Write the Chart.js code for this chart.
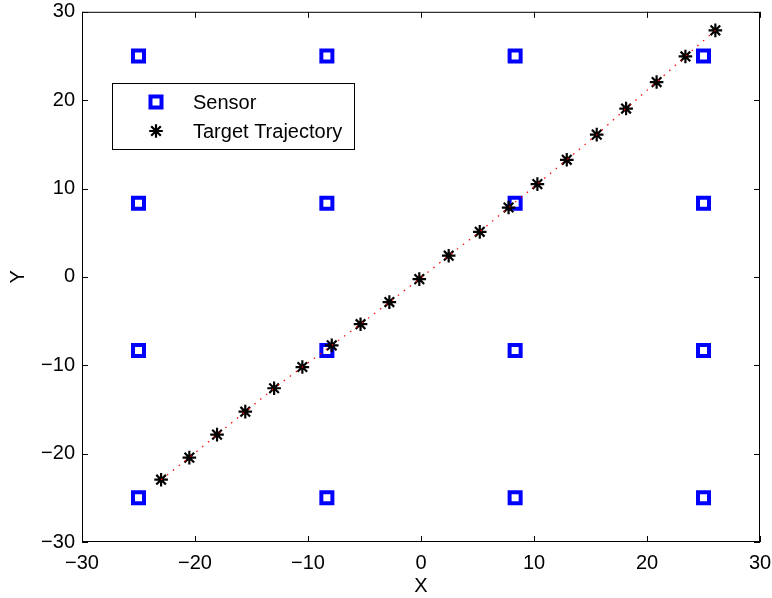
<!DOCTYPE html>
<html>
<head>
<meta charset="utf-8">
<script src="https://cdn.jsdelivr.net/npm/chart.js@4/dist/chart.umd.min.js"></script>
<style>
    body { margin: 0; background: #fff; }
    #wrap { width: 772px; height: 598px; }
</style>
</head>
<body>
<div id="wrap"><canvas id="trackChart" width="772" height="598"></canvas></div>
<script>
// sensor grid positions
var sensorCoords = [-25, -8.33, 8.33, 25];

// target trajectory
var targetX = [-23.0, -20.5, -18.05, -15.55, -13.0, -10.5, -7.9, -5.35, -2.8, -0.15,
    2.45, 5.2, 7.75, 10.3, 12.9, 15.55, 18.15, 20.85, 23.4, 26.05];
var targetY = [-22.95, -20.45, -17.85, -15.25, -12.6, -10.2, -7.75, -5.35, -2.85, -0.25,
    2.4, 5.1, 7.85, 10.5, 13.25, 16.1, 19.05, 22.05, 24.95, 27.9];

var axisTicks = [-30, -20, -10, 0, 10, 20, 30];
var fontName = '"Liberation Sans", Arial, Helvetica, sans-serif';

var sensorPts = [];
sensorCoords.forEach(function(sx){
    sensorCoords.forEach(function(sy){
        sensorPts.push({x: sx, y: sy});
    });
});
var targetPts = targetX.map(function(x, i){ return {x: x, y: targetY[i]}; });

function minusFmt(v){
    return v < 0 ? '\u2212' + Math.abs(v) : String(v);
}

// box around the axes with inward ticks (matlab look)
var boxPlugin = {
    id: 'boxPlugin',
    afterDatasetsDraw: function(chart){
        var ctx = chart.ctx;
        var a = chart.chartArea;
        var xs = chart.scales.x, ys = chart.scales.y;
        ctx.save();
        ctx.strokeStyle = '#000';
        ctx.lineWidth = 1;
        ctx.strokeRect(a.left + 0.5, a.top + 0.5, a.right - a.left - 1, a.bottom - a.top - 1);
        ctx.beginPath();
        axisTicks.forEach(function(t){
            var px = Math.round(xs.getPixelForValue(t)) + 0.5;
            ctx.moveTo(px, a.bottom); ctx.lineTo(px, a.bottom - 6);
            ctx.moveTo(px, a.top); ctx.lineTo(px, a.top + 6);
            var py = Math.round(ys.getPixelForValue(t)) + 0.5;
            ctx.moveTo(a.left, py); ctx.lineTo(a.left + 6, py);
            ctx.moveTo(a.right, py); ctx.lineTo(a.right - 6, py);
        });
        ctx.stroke();
        ctx.restore();
    }
};

// legend box inside the plot
var legendBox = {
    id: 'legendBox',
    afterDraw: function(chart){
        var ctx = chart.ctx;
        var bx = 112, by = 83, bw = 242, bh = 66;
        ctx.save();
        ctx.fillStyle = '#fff';
        ctx.fillRect(bx, by, bw, bh);
        ctx.strokeStyle = '#000';
        ctx.lineWidth = 1;
        ctx.strokeRect(bx + 0.5, by + 0.5, bw, bh);
        var rows = [chart.data.datasets[0], chart.data.datasets[1]];
        ctx.font = '20px ' + fontName;
        ctx.textBaseline = 'middle';
        rows.forEach(function(ds, i){
            var cy = by + 19 + i * 29;
            ctx.strokeStyle = ds.borderColor;
            ctx.fillStyle = ds.backgroundColor;
            ctx.lineWidth = ds.borderWidth;
            Chart.helpers.drawPoint(ctx, {pointStyle: ds.pointStyle, radius: ds.pointRadius, borderWidth: ds.borderWidth}, 156, cy);
            ctx.fillStyle = '#000';
            ctx.fillText(ds.label, 193, cy + 1);
        });
        ctx.restore();
    }
};

var ctx = document.getElementById('trackChart').getContext('2d');

var config = {
    type: 'scatter',
    data: {
        datasets: [{
            label: 'Sensor',
            data: sensorPts,
            order: 2,
            pointStyle: 'rect',
            pointRadius: 7.8,
            borderWidth: 4,
            borderColor: '#0000ff',
            backgroundColor: '#ffffff',
            showLine: false
        }, {
            label: 'Target Trajectory',
            data: targetPts,
            order: 1,
            pointStyle: 'star',
            pointRadius: 6.8,
            borderWidth: 2.2,
            borderColor: '#000000',
            backgroundColor: '#000000',
            showLine: false
        }, {
            label: 'path',
            data: targetPts,
            order: 0,
            showLine: true,
            pointRadius: 0,
            borderColor: '#ff0000',
            borderWidth: 1.2,
            borderDash: [1.5, 6],
            fill: false
        }]
    },
    options: {
        responsive: false,
        animation: false,
        layout: { padding: { top: 7, right: 12, left: 0, bottom: 0 } },
        scales: {
            x: {
                type: 'linear',
                min: -30, max: 30,
                afterFit: function(s){
                    s.height = 56;
                    s.paddingLeft = 0;
                    s.paddingRight = 0;
                },
                afterBuildTicks: function(s){ s.ticks = axisTicks.map(function(v){ return {value: v}; }); },
                ticks: {
                    padding: 9,
                    color: '#000',
                    font: { family: fontName, size: 20 },
                    callback: minusFmt
                },
                grid: { display: false, drawTicks: false },
                border: { display: false },
                title: {
                    display: true, text: 'X', color: '#000',
                    font: { family: fontName, size: 20 },
                    padding: { top: 0, bottom: 0 }
                }
            },
            y: {
                type: 'linear',
                min: -30, max: 30,
                afterFit: function(s){
                    s.width = 82;
                    s.paddingTop = 0;
                    s.paddingBottom = 0;
                },
                afterBuildTicks: function(s){ s.ticks = axisTicks.map(function(v){ return {value: v}; }); },
                ticks: {
                    padding: 7,
                    color: '#000',
                    font: { family: fontName, size: 20 },
                    callback: minusFmt
                },
                grid: { display: false, drawTicks: false },
                border: { display: false },
                title: {
                    display: true, text: 'Y', color: '#000',
                    font: { family: fontName, size: 20 },
                    padding: { top: 6, bottom: 0 }
                }
            }
        },
        plugins: {
            legend: { display: false },
            tooltip: { enabled: false }
        }
    },
    plugins: [boxPlugin, legendBox]
};

var trackChart = new Chart(ctx, config);
</script>
</body>
</html>
